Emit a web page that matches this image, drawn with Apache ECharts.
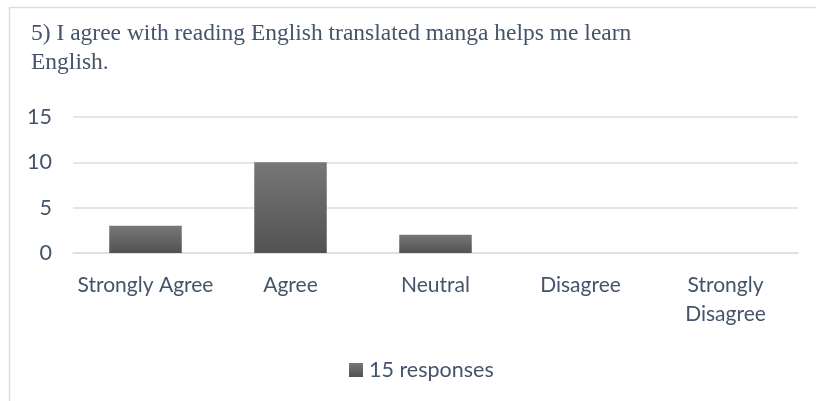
<!DOCTYPE html>
<html>
<head>
<meta charset="utf-8">
<script src="https://cdn.jsdelivr.net/npm/echarts@6/dist/echarts.min.js"></script>
<style>
html,body{margin:0;padding:0;background:#fff;}
#c{width:816px;height:401px;}
</style>
</head>
<body>
<div id="c"></div>
<script>
const titleText = "5) I agree with reading English translated manga helps me learn\nEnglish.";
const categories = ["Strongly Agree", "Agree", "Neutral", "Disagree", "Strongly\nDisagree"];
const seriesName = "15 responses";
const values = [3, 10, 2, 0, 0];
const yTicks = { min: 0, max: 15, interval: 5 };

const textColor = "#44546A";
const gridColor = "#D9DEE5";

const chart = echarts.init(document.getElementById('c'), null, { renderer: 'canvas' });
chart.setOption({
  backgroundColor: '#fff',
  animation: false,
  title: {
    text: titleText,
    left: 26,
    top: 14,
    textStyle: {
      fontFamily: 'Liberation Serif',
      fontSize: 23.5,
      fontWeight: 'normal',
      color: textColor,
      lineHeight: 29
    }
  },
  legend: {
    left: 344,
    top: 354,
    itemWidth: 14,
    itemHeight: 14,
    itemGap: 10,
    icon: 'rect',
    textStyle: { fontFamily: 'Lato', fontSize: 21.5, color: textColor, padding: [0, 0, 0, 1] },
    data: [seriesName]
  },
  grid: { left: 73, right: 18, top: 117, bottom: 148, containLabel: false },
  xAxis: {
    type: 'category',
    data: categories,
    axisLine: { show: true, lineStyle: { color: gridColor, width: 1.5 } },
    axisTick: { show: false },
    axisLabel: {
      fontFamily: 'Lato',
      fontSize: 21,
      color: textColor,
      margin: 18,
      lineHeight: 29,
      interval: 0
    }
  },
  yAxis: {
    type: 'value',
    min: yTicks.min,
    max: yTicks.max,
    interval: yTicks.interval,
    axisLine: { show: false },
    axisTick: { show: false },
    splitLine: { lineStyle: { color: gridColor, width: 1.5 } },
    axisLabel: { fontFamily: 'Lato', fontSize: 21.5, color: textColor, margin: 21 }
  },
  series: [{
    name: seriesName,
    type: 'bar',
    data: values,
    barWidth: '50%',
    itemStyle: {
      color: new echarts.graphic.LinearGradient(0, 0, 0, 1, [
        { offset: 0, color: '#777777' },
        { offset: 1, color: '#525252' }
      ])
    }
  }],
  graphic: [
    { type: 'line', shape: { x1: 9.5, y1: 7, x2: 9.5, y2: 401 }, style: { stroke: gridColor, lineWidth: 1.5 }, silent: true },
    { type: 'line', shape: { x1: 9, y1: 7.5, x2: 816, y2: 7.5 }, style: { stroke: gridColor, lineWidth: 1.5 }, silent: true }
  ]
});
</script>
</body>
</html>
